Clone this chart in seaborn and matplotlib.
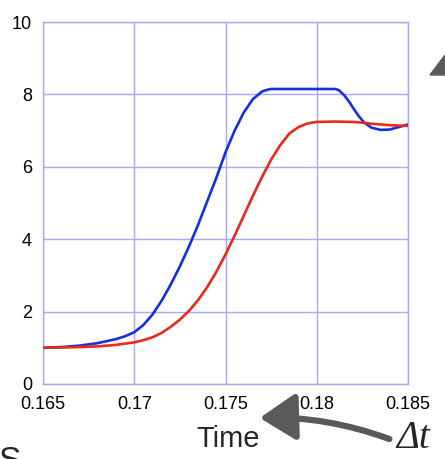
import numpy as np
import pandas as pd
import matplotlib
matplotlib.use("Agg")
import matplotlib.pyplot as plt
import seaborn as sns
from matplotlib.patches import FancyArrowPatch, Polygon

# values
blue_t = [0.165, 0.166, 0.167, 0.168, 0.169, 0.1695, 0.170, 0.1705, 0.171, 0.1715,
          0.172, 0.1725, 0.173, 0.1735, 0.174, 0.1745, 0.175, 0.1755, 0.176,
          0.1765, 0.177, 0.1773, 0.1775, 0.178, 0.179, 0.180, 0.181, 0.1812,
          0.1815, 0.1818, 0.182, 0.1823, 0.1826, 0.183, 0.1835, 0.184, 0.1845,
          0.185]
blue_v = [1.0, 1.02, 1.06, 1.13, 1.24, 1.32, 1.43, 1.63, 1.92, 2.3,
          2.75, 3.25, 3.8, 4.4, 5.05, 5.7, 6.4, 7.0, 7.5,
          7.87, 8.08, 8.13, 8.15, 8.15, 8.15, 8.15, 8.15, 8.12,
          7.98, 7.78, 7.62, 7.4, 7.22, 7.08, 7.02, 7.03, 7.1,
          7.17]
red_t = [0.165, 0.166, 0.167, 0.168, 0.169, 0.170, 0.1705, 0.171, 0.1715, 0.172,
         0.1725, 0.173, 0.1735, 0.174, 0.1745, 0.175, 0.1755, 0.176, 0.1765,
         0.177, 0.1775, 0.178, 0.1785, 0.179, 0.1795, 0.180, 0.181, 0.182,
         0.1825, 0.183, 0.184, 0.185]
red_v = [1.0, 1.01, 1.02, 1.04, 1.08, 1.15, 1.21, 1.29, 1.41, 1.58,
         1.78, 2.02, 2.32, 2.68, 3.1, 3.58, 4.1, 4.65, 5.2,
         5.72, 6.2, 6.6, 6.92, 7.1, 7.2, 7.24, 7.25, 7.24,
         7.22, 7.19, 7.15, 7.13]

x_ticks = [0.165, 0.17, 0.175, 0.18, 0.185]
x_labels = ["0.165", "0.17", "0.175", "0.18", "0.185"]
y_ticks = [0, 2, 4, 6, 8, 10]

df = pd.concat([
    pd.DataFrame({"t": blue_t, "v": blue_v, "s": "blue"}),
    pd.DataFrame({"t": red_t, "v": red_v, "s": "red"}),
])

sns.set_style("white")
plt.rcParams["font.family"] = ["Liberation Sans", "DejaVu Sans"]

fig = plt.figure(figsize=(4.45, 4.59), dpi=100)
ax = fig.add_axes([0.0966, 0.1634, 0.8203, 0.7886])

grid_c = "#a8a8f4"
sns.lineplot(data=df, x="t", y="v", hue="s",
             palette={"blue": "#1530e0", "red": "#e82a1a"},
             linewidth=1.9, legend=False, ax=ax, zorder=3)

ax.set_xlim(0.165, 0.185)
ax.set_ylim(0, 10)
ax.set_xticks(x_ticks)
ax.set_xticklabels(x_labels)
ax.set_yticks(y_ticks)
ax.grid(True, color=grid_c, linewidth=1.0)
for sp in ax.spines.values():
    sp.set_color(grid_c)
    sp.set_linewidth(1.0)
ax.tick_params(length=0, labelsize=13, colors="black")
ax.tick_params(axis="y", pad=8)
ax.tick_params(axis="x", pad=9)
ax.set_xlabel("")
ax.set_ylabel("")

# annotations below the axes
fig.text(228 / 445, 1 - 447 / 459, "Time", fontsize=21, ha="center", va="baseline")
fig.text(413 / 445, 1 - 448 / 459, "Δt", fontsize=28, ha="center", va="baseline",
         family=["Liberation Serif", "DejaVu Serif"], style="italic")
arrow = FancyArrowPatch((392 / 445, 1 - 440 / 459), (257 / 445, 1 - 418 / 459),
                        transform=fig.transFigure,
                        connectionstyle="arc3,rad=0.1",
                        arrowstyle="-|>,head_length=10,head_width=6.5",
                        mutation_scale=2.2, color="#5a5a5a", linewidth=4.5)
fig.add_artist(arrow)

# partial arrowhead at the top right edge and clipped letter at bottom left
fig.add_artist(Polygon([(430 / 445, 1 - 75 / 459), (445 / 445, 1 - 55 / 459),
                        (445 / 445, 1 - 75 / 459)], closed=True,
                       transform=fig.transFigure, color="#5a5a5a"))
fig.text(-2 / 445, 1 - 470 / 459, "S", fontsize=24, ha="left", va="baseline")

fig.savefig("out.png", dpi=100)
